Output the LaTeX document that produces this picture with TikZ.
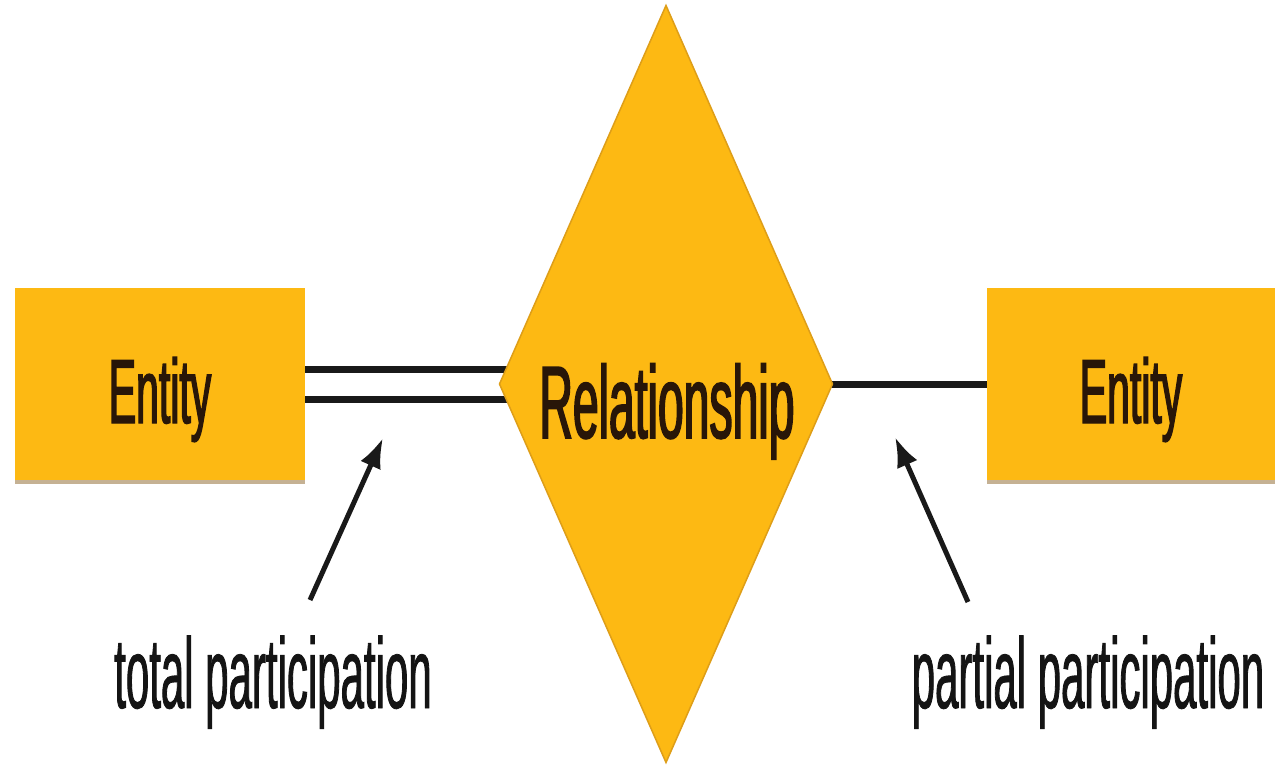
\documentclass[tikz,border=0pt]{standalone}
\usepackage{fontspec}
\setmainfont{Liberation Sans}
\newfontfamily\narrowbox[FakeStretch=0.45,FakeBold=1.5]{Liberation Sans}
\newfontfamily\narrowlabel[FakeStretch=0.42,FakeBold=0.8]{Liberation Sans}
\usetikzlibrary{shapes.geometric,arrows.meta,shadows,backgrounds}

\definecolor{erfill}{RGB}{253,185,19}
\definecolor{eredge}{RGB}{222,158,24}
\definecolor{erink}{RGB}{40,22,8}
\definecolor{labelink}{RGB}{20,20,20}
\definecolor{ershadow}{RGB}{140,100,40}

\begin{document}
\begin{tikzpicture}[x=1pt,y=-1pt,
  entitybox/.style={rectangle, fill=erfill, minimum width=290pt, minimum height=192pt,
    inner sep=0pt, outer sep=0pt, text=erink,
    font=\narrowbox\fontsize{91}{91}\selectfont, text height=78pt, text depth=0pt,
    drop shadow={shadow xshift=0pt, shadow yshift=-4pt, opacity=0.5, fill=ershadow}},
  relshape/.style={diamond, fill=erfill, draw=eredge, line width=1.5pt,
    minimum width=333pt, minimum height=757pt, inner sep=0pt, outer sep=0pt},
  reltext/.style={inner sep=0pt, text=erink, font=\narrowbox\fontsize{103}{103}\selectfont},
  caption/.style={inner sep=0pt, text=labelink, font=\narrowlabel\fontsize{100}{100}\selectfont},
  totalline/.style={draw=black!90, line width=7pt, double=white, double distance=23pt},
  partialline/.style={draw=black!90, line width=7pt},
  pointer/.style={draw=black!90, line width=5pt, -{Latex[length=30pt,width=22pt]}}
]
\useasboundingbox (0,0) rectangle (1278,768);

% entities and the relationship
\node[entitybox] (entL) at (160,384) {Entity};
\node[entitybox, minimum width=288pt] (entR) at (1131,384) {Entity};
\node[relshape] (rel) at (666,384) {};
\node[reltext, anchor=base] (reltxt) at (667,438) {Relationship};

% participation lines, kept behind the diamond
\begin{scope}[on background layer]
  \fill[white] (0,0) rectangle (1278,768);
  \draw[totalline] (entL.east) -- ([xshift=12pt]rel.west);
  \draw[partialline] ([xshift=-4pt]rel.east) -- (entR.west);
\end{scope}

% captions with their pointers
\node[caption, anchor=base] (capL) at (273,708) {total participation};
\node[caption, anchor=base] (capR) at (1088,708) {partial participation};
\coordinate (tailL) at (310,600);
\coordinate (tipL) at (383,438);
\coordinate (tailR) at (968,602);
\coordinate (tipR) at (895,437);
\draw[pointer] (tailL) -- (tipL);
\draw[pointer] (tailR) -- (tipR);
\end{tikzpicture}
\end{document}
